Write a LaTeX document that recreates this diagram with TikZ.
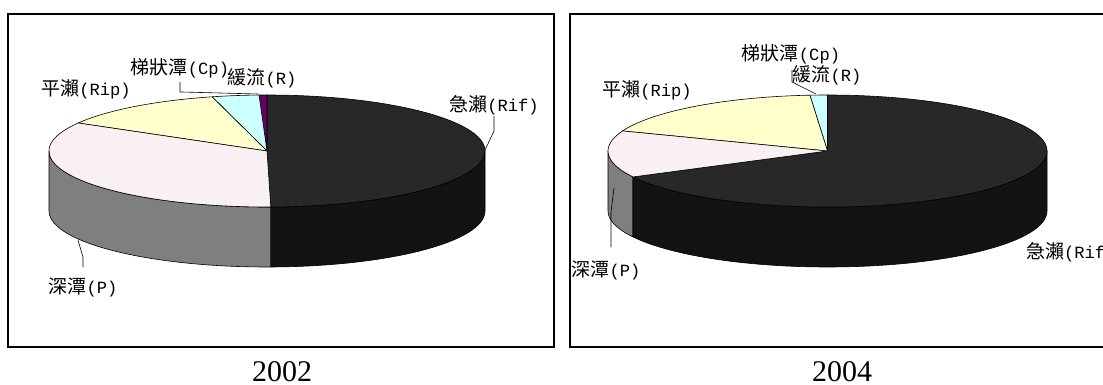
\documentclass[tikz,border=0pt]{standalone}
\usepackage{fontspec}
\setmainfont{Liberation Serif}
\newfontfamily\cjk{Noto Sans CJK TC}
\newfontfamily\latn[Scale=0.9]{Liberation Mono}
\usetikzlibrary{positioning}

\definecolor{rifTop}{HTML}{282828}
\definecolor{rifSide}{HTML}{131313}
\definecolor{pTop}{HTML}{F8F0F3}
\definecolor{pSide}{HTML}{7F7F7F}
\definecolor{ripTop}{HTML}{FFFFCC}
\definecolor{cpTop}{HTML}{CCFFFF}
\definecolor{rTop}{HTML}{660066}

\newcommand{\habitat}[2]{{\cjk #1}{\latn #2}}

\begin{document}
\begin{tikzpicture}[x=1pt, y=1pt,
    frame/.style={draw, line width=2.5pt},
    slice/.style={draw=black, line width=0.6pt, line join=round},
    lbl/.style={rectangle, inner sep=1pt, font=\fontsize{19}{21}\selectfont},
    year/.style={rectangle, inner sep=0pt, font=\fontsize{30}{32}\selectfont},
    lead/.style={draw, line width=0.6pt},
    rA/.style={x radius=218pt, y radius=56pt},
    rB/.style={x radius=219.5pt, y radius=56pt}]

	\clip (0,0) rectangle (1103,-385);

	% 2002
	\draw[frame] (8,-14) rectangle (554,-347);
	\coordinate (C1) at (267,-151);

	\filldraw[slice, fill=pSide] (C1) ++(180:218pt and 56pt) arc[rA, start angle=180, end angle=271] -- ++(0,-60) arc[rA, start angle=271, end angle=180] -- cycle;
	\filldraw[slice, fill=rifSide] (C1) ++(271:218pt and 56pt) arc[rA, start angle=271, end angle=360] -- ++(0,-60) arc[rA, start angle=360, end angle=271] -- cycle;

	\filldraw[slice, fill=rifTop] (C1) -- ++(-89:218pt and 56pt) arc[rA, start angle=-89, end angle=90] -- cycle;
	\filldraw[slice, fill=rTop] (C1) -- ++(90:218pt and 56pt) arc[rA, start angle=90, end angle=92.1] -- cycle;
	\filldraw[slice, fill=cpTop] (C1) -- ++(92.1:218pt and 56pt) arc[rA, start angle=92.1, end angle=104.6] -- cycle;
	\filldraw[slice, fill=ripTop] (C1) -- ++(104.6:218pt and 56pt) arc[rA, start angle=104.6, end angle=150] -- cycle;
	\filldraw[slice, fill=pTop] (C1) -- ++(150:218pt and 56pt) arc[rA, start angle=150, end angle=271] -- cycle;

	\node[lbl] (Cp1) at (180,-68) {\habitat{梯狀潭}{(Cp)}};
	\node[lbl] (R1) at (262,-78) {\habitat{緩流}{(R)}};
	\node[lbl] (Rip1) at (86,-89) {\habitat{平瀨}{(Rip)}};
	\node[lbl] (Rif1) at (494,-105) {\habitat{急瀨}{(Rif)}};
	\node[lbl] (P1) at (83,-287) {\habitat{深潭}{(P)}};

	\coordinate (cp1) at (258,-94);
	\coordinate (rif1) at (485,-150);
	\coordinate (p1) at (78,-240);
	\draw[lead] ([yshift=-3pt]Cp1.south) -- ++(0,-10) -- (cp1);
	\draw[lead] (Rif1.south) -- ++(0,-15) -- (rif1);
	\draw[lead] ([yshift=9pt]P1.north) -- ++(0,10) -- (p1);

	\node[year] (Y1) at (282,-372) {2002};

	% 2004
	\draw[frame] (570,-14) rectangle (1120,-347);
	\coordinate (C2) at (827.5,-151);

	\filldraw[slice, fill=pSide] (C2) ++(180:219.5pt and 56pt) arc[rB, start angle=180, end angle=207.6] -- ++(0,-60) arc[rB, start angle=207.6, end angle=180] -- cycle;
	\filldraw[slice, fill=rifSide] (C2) ++(207.6:219.5pt and 56pt) arc[rB, start angle=207.6, end angle=360] -- ++(0,-60) arc[rB, start angle=360, end angle=207.6] -- cycle;

	\filldraw[slice, fill=rifTop] (C2) -- ++(-152.4:219.5pt and 56pt) arc[rB, start angle=-152.4, end angle=90] -- cycle;
	\filldraw[slice, fill=cpTop] (C2) -- ++(90:219.5pt and 56pt) arc[rB, start angle=90, end angle=94.6] -- cycle;
	\filldraw[slice, fill=ripTop] (C2) -- ++(94.6:219.5pt and 56pt) arc[rB, start angle=94.6, end angle=159] -- cycle;
	\filldraw[slice, fill=pTop] (C2) -- ++(159:219.5pt and 56pt) arc[rB, start angle=159, end angle=207.6] -- cycle;

	\node[lbl] (Cp2) at (791,-54) {\habitat{梯狀潭}{(Cp)}};
	\node[lbl] (R2) at (827,-75) {\habitat{緩流}{(R)}};
	\node[lbl] (Rip2) at (647,-90) {\habitat{平瀨}{(Rip)}};
	\node[lbl] (P2) at (606,-270) {\habitat{深潭}{(P)}};
	\node[lbl, anchor=west] (Rif2) at (1025,-252) {\habitat{急瀨}{(Rif)}};

	\coordinate (cp2) at (816,-94);
	\coordinate (p2) at (614,-188);
	\draw[lead] ([xshift=1pt, yshift=-5pt]Cp2.south) -- ++(0,-12) -- (cp2);
	\draw[lead] ([xshift=5pt, yshift=12pt]P2.north) -- ++(0,35) -- (p2);

	\node[year] (Y2) at (842,-372) {2004};

\end{tikzpicture}
\end{document}
